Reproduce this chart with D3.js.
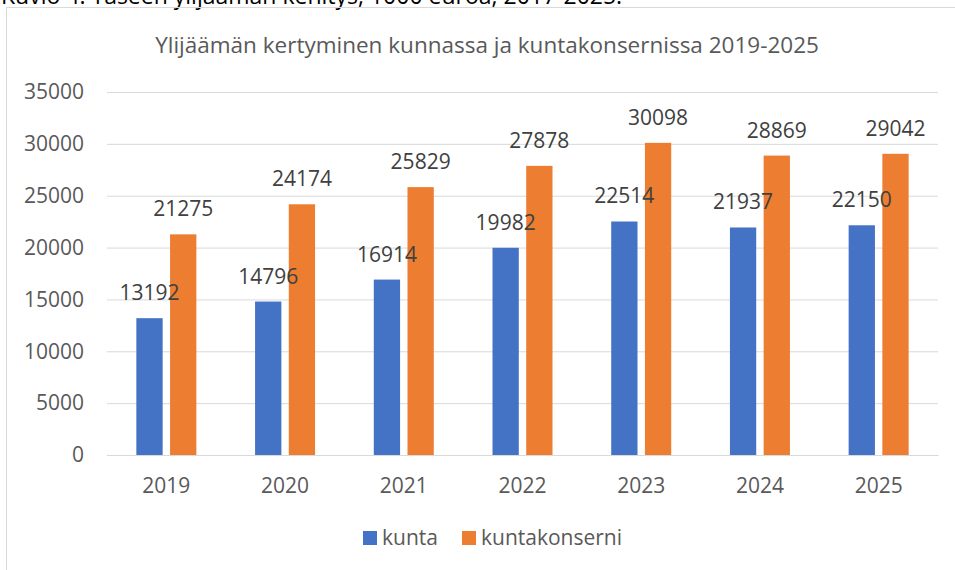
<!DOCTYPE html>
<html>
<head>
<meta charset="utf-8">
<script src="https://cdn.jsdelivr.net/npm/d3@7"></script>
<style>
  body { margin: 0; background: #fff; }
  svg text { font-family: "Open Sans", "DejaVu Sans", sans-serif; }
</style>
</head>
<body>
<div id="chart"></div>
<script>
// ! Data
var years = ["2019", "2020", "2021", "2022", "2023", "2024", "2025"];
var series_names = ["kunta", "kuntakonserni"];
var kunta_values = [13192, 14796, 16914, 19982, 22514, 21937, 22150];
var konserni_values = [21275, 24174, 25829, 27878, 30098, 28869, 29042];
var y_ticks = [0, 5000, 10000, 15000, 20000, 25000, 30000, 35000];
var series_colours = ["#4472C4", "#ED7D31"];

var chart_data = years.map(function (d, i) {
  return { year: d, kunta: kunta_values[i], kuntakonserni: konserni_values[i] };
});

// ! Parameters
var width = 955,
    height = 570,
    plot_left = 107,
    plot_right = 938,
    plot_top = 92,
    plot_bottom = 455;

var svg = d3.select("#chart")
  .append("svg")
  .attr("width", width)
  .attr("height", height);

// caption line above the chart, cut off at the top of the picture
svg.append("text")
  .attr("x", 1)
  .attr("y", 4)
  .style("font-size", "23px")
  .style("fill", "#000")
  .text("Kuvio 4. Taseen ylijäämän kehitys, 1000 euroa, 2017-2025.");

// chart area border
svg.append("rect")
  .attr("x", 6.5)
  .attr("y", 7.5)
  .attr("width", 1000)
  .attr("height", 600)
  .attr("fill", "none")
  .attr("stroke", "#D9D9D9");

svg.append("text")
  .attr("x", 487)
  .attr("y", 53)
  .attr("text-anchor", "middle")
  .style("font-size", "22.5px")
  .style("fill", "#595959")
  .text("Ylijäämän kertyminen kunnassa ja kuntakonsernissa 2019-2025");

// ! Scales
var y_scale = d3.scaleLinear()
  .domain([0, 35000])
  .range([plot_bottom, plot_top]);

var x0_scale = d3.scaleBand()
  .domain(years)
  .range([plot_left, plot_right]);

var x1_scale = d3.scaleBand()
  .domain(series_names)
  .range([x0_scale.bandwidth() / 2 - 30, x0_scale.bandwidth() / 2 + 30])
  .paddingInner(0.22);

var colour_scale = d3.scaleOrdinal()
  .domain(series_names)
  .range(series_colours);

// gridlines + y labels
var y_axis = svg.append("g")
  .attr("transform", "translate(" + plot_left + ",0)")
  .call(d3.axisLeft(y_scale)
    .tickValues(y_ticks)
    .tickFormat(d3.format("d"))
    .tickSize(-(plot_right - plot_left))
    .tickPadding(23));

y_axis.select(".domain").remove();
y_axis.selectAll(".tick line")
  .attr("stroke", "#D9D9D9")
  .attr("stroke-width", 1);
y_axis.selectAll(".tick text")
  .style("font-size", "21px")
  .style("fill", "#595959")
  .style("font-family", "'Open Sans', sans-serif");

// x labels
var x_axis = svg.append("g")
  .attr("transform", "translate(0," + plot_bottom + ")")
  .call(d3.axisBottom(x0_scale).tickSize(0).tickPadding(23));

x_axis.select(".domain").attr("stroke", "#D9D9D9");
x_axis.selectAll(".tick text")
  .style("font-size", "21px")
  .style("fill", "#595959")
  .style("font-family", "'Open Sans', sans-serif");

// ! Bars
var groups = svg.selectAll("g.year")
  .data(chart_data)
  .enter()
  .append("g")
  .attr("class", "year")
  .attr("transform", function (d) { return "translate(" + x0_scale(d.year) + ",0)"; });

groups.selectAll("rect")
  .data(function (d) { return series_names.map(function (k) { return { key: k, value: d[k] }; }); })
  .enter()
  .append("rect")
  .attr("x", function (d) { return x1_scale(d.key); })
  .attr("y", function (d) { return y_scale(d.value); })
  .attr("width", x1_scale.bandwidth())
  .attr("height", function (d) { return plot_bottom - y_scale(d.value); })
  .attr("fill", function (d) { return colour_scale(d.key); });

groups.selectAll("text.label")
  .data(function (d) { return series_names.map(function (k) { return { key: k, value: d[k] }; }); })
  .enter()
  .append("text")
  .attr("class", "label")
  .attr("x", function (d) { return x1_scale(d.key) + x1_scale.bandwidth() / 2; })
  .attr("y", function (d) { return y_scale(d.value) - 18; })
  .attr("text-anchor", "middle")
  .style("font-size", "21px")
  .style("fill", "#404040")
  .text(function (d) { return d.value; });

// ! Legend
var legend = svg.append("g")
  .attr("transform", "translate(363,531)");

var legend_x = [0, 99];
series_names.forEach(function (k, i) {
  legend.append("rect")
    .attr("x", legend_x[i])
    .attr("y", 0)
    .attr("width", 14)
    .attr("height", 14)
    .attr("fill", colour_scale(k));
  legend.append("text")
    .attr("x", legend_x[i] + 19)
    .attr("y", 14)
    .style("font-size", "21px")
    .style("fill", "#595959")
    .text(k);
});
</script>
</body>
</html>
